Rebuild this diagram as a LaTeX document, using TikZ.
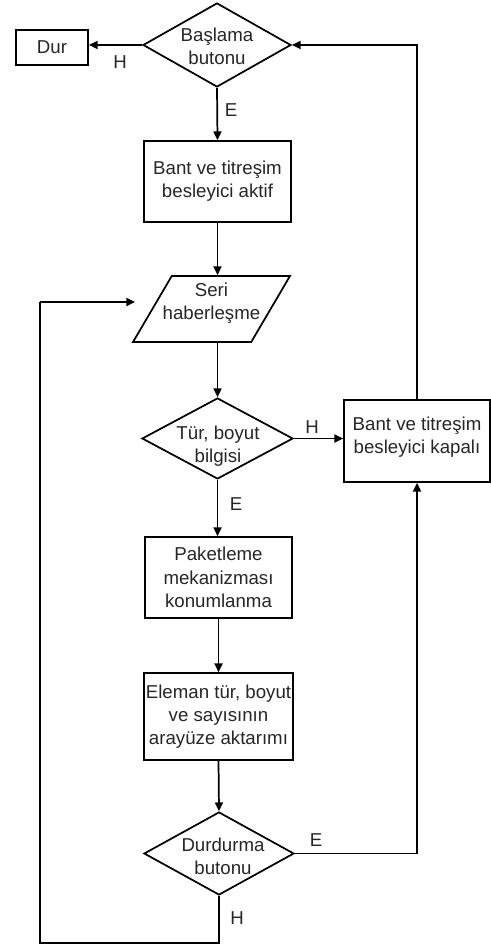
\documentclass[tikz,border=0pt]{standalone}
\usepackage{fontspec}
\setmainfont{Liberation Sans}
\usetikzlibrary{shapes.geometric,arrows.meta}
\begin{document}
\begin{tikzpicture}[x=0.75pt,y=-0.75pt,
  every node/.style={font=\fontsize{14pt}{17.5pt}\selectfont, text=black!85},
  box/.style={draw, line width=1.3pt, rectangle, inner sep=0pt, align=center},
  dia/.style={draw, line width=1.3pt, diamond, inner sep=0pt},
  txt/.style={align=center, inner sep=0pt},
  io/.style={draw, line width=1.3pt, trapezium, trapezium left angle=64, trapezium right angle=116, trapezium stretches=true, inner sep=2pt, align=center},
  lbl/.style={inner sep=0pt},
  arr/.style={line width=1.3pt, -{Triangle[length=6.5pt,width=6pt]}},
  ln/.style={line width=1.3pt}]
\useasboundingbox (0,0) rectangle (491,945);

% nodes
\node[dia, minimum width=111pt, minimum height=63pt] (d1) at (217,45) {};
\node[txt] (d1t) at (217,46.5) {Başlama\\butonu};
\node[box, minimum width=54pt, minimum height=26.25pt] (dur) at (52,47.5) {Dur};
\node[box, minimum width=110.25pt, minimum height=60.75pt] (bant1) at (217.5,181.5) {Bant ve titreşim\\besleyici aktif};
\node[io, minimum width=117.75pt, minimum height=49.5pt] (seri) at (211.5,309) {};
\node[txt] (serit) at (211.5,303) {Seri\\haberleşme};
\node[dia, minimum width=113.25pt, minimum height=60.75pt] (d2) at (217.5,438.5) {};
\node[txt] (d2t) at (218,446) {Tür, boyut\\bilgisi};
\node[box, minimum width=109.5pt, minimum height=61.5pt] (kapali) at (417,441) {};
\node[txt] (kapalit) at (417,437.5) {Bant ve titreşim\\besleyici kapalı};
\node[box, minimum width=110.25pt, minimum height=60.75pt] (pak) at (218.5,577.5) {Paketleme\\mekanizması\\konumlanma};
\node[box, minimum width=111.75pt, minimum height=65.25pt] (elem) at (218.5,716.5) {Eleman tür, boyut\\ve sayısının\\arayüze aktarımı};
\node[dia, minimum width=112.5pt, minimum height=62.25pt] (d3) at (219,853.5) {};
\node[txt] (d3t) at (223,856) {Durdurma\\butonu};

\coordinate (loopbot) at (40,943);
\coordinate (looptop) at (40,302);
\coordinate (loopend) at (135,302);

% connectors
\draw[arr] (d1.west) -- (d1.west -| dur.east);
\draw[arr] (d1.south) -- (bant1.north);
\draw[arr] (bant1.south) -- (bant1.south |- seri.north);
\draw[arr] (d2.north |- seri.south) -- (d2.north);
\draw[arr] (d2.east) -- (d2.east -| kapali.west);
\draw[arr] (d2.south) -- (d2.south |- pak.north);
\draw[arr] (pak.south) -- (elem.north);
\draw[arr] (elem.south) -- (d3.north);
\draw[arr] (d3.east) -| (kapali.south);
\draw[arr] (kapali.north) |- (d1.east);
\draw[ln] (d3.south) -- (d3.south |- loopbot) -- (loopbot) -- (looptop);
\draw[arr] (looptop) -- (loopend);

% labels
\node[lbl] (lH1) at (120,62) {H};
\node[lbl] (lE1) at (231,110) {E};
\node[lbl] (lH2) at (312,427) {H};
\node[lbl] (lE2) at (236,504) {E};
\node[lbl] (lE3) at (316,840) {E};
\node[lbl] (lH3) at (237,918) {H};
\end{tikzpicture}
\end{document}
